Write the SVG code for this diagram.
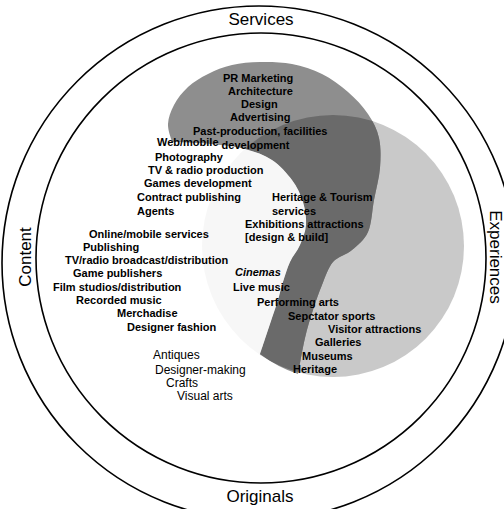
<svg xmlns="http://www.w3.org/2000/svg" width="504" height="509" viewBox="0 0 504 509">
<style>
.ring{fill:none;stroke:#000;stroke-width:1.6}
.lbl{font-family:"Liberation Sans",Arial,sans-serif;font-size:17px;fill:#000}
.it{font-family:"Liberation Sans",Arial,sans-serif;font-size:11px;font-weight:bold;fill:#000}
.og{font-family:"Liberation Sans",Arial,sans-serif;font-size:12px;fill:#000}
</style>
<defs>
<clipPath id="clipE"><circle cx="333" cy="246" r="131"/></clipPath>
<path id="sPath" d="M172,142 C171.3,139 167.7,130.2 168,124 C168.3,117.8 170.7,111.2 174,105 C177.3,98.8 182.3,92.2 188,87 C193.7,81.8 200.7,77.7 208,74 C215.3,70.3 223.3,67 232,65 C240.7,63 250,62.2 260,62 C270,61.8 281.7,62 292,64 C302.3,66 312.7,69.3 322,74 C331.3,78.7 340.3,85.3 348,92 C355.7,98.7 362.8,106.3 368,114 C373.2,121.7 377,129 379,138 C381,147 380.8,157.7 380,168 C379.2,178.3 376,189.3 374,200 C372,210.7 371.7,223.7 368,232 C364.3,240.3 357.8,245 352,250 C346.2,255 338,256.2 333,262 C328,267.8 325.3,277 322,285 C318.7,293 315.8,301.2 313,310 C310.2,318.8 307.5,327.3 305,338 C302.5,348.7 299.2,368 298,374 A131,131 0 0 1 260,354 C261,351 264,342 266,336 C268,330 270,324 272,318 C274,312 276.2,306 278,300 C279.8,294 281,288.3 283,282 C285,275.7 287.2,268.2 290,262 C292.8,255.8 297.3,251.2 300,245 C302.7,238.8 305.5,232.2 306,225 C306.5,217.8 305.3,209.5 303,202 C300.7,194.5 297.2,187 292,180 C286.8,173 279.8,165.2 272,160 C264.2,154.8 255.3,151.7 245,149 C234.7,146.3 222.2,145.2 210,144 C197.8,142.8 178.3,142.3 172,142 Z"/>
</defs>
<rect width="504" height="509" fill="#fff"/>
<g id="shading">
<circle id="experiences-area" cx="333" cy="246" r="131" fill="#c9c9c9"/>
<use href="#sPath" fill="#8e8e8e"/>
<use href="#sPath" fill="#6a6a6a" clip-path="url(#clipE)"/>
<path id="content-area" d="M172,142 C178.3,142.3 197.8,142.8 210,144 C222.2,145.2 234.7,146.3 245,149 C255.3,151.7 264.2,154.8 272,160 C279.8,165.2 286.8,173 292,180 C297.2,187 300.7,194.5 303,202 C305.3,209.5 306.5,217.8 306,225 C305.5,232.2 302.7,238.8 300,245 C297.3,251.2 292.8,255.8 290,262 C287.2,268.2 285,275.7 283,282 C281,288.3 279.8,294 278,300 C276.2,306 274,312 272,318 C270,324 268,330 266,336 C264,342 261,351 260,354 L250,400 L120,400 L120,142 Z" fill="#fff" fill-opacity="0.85"/>
</g>
<g id="rings">
<circle class="ring" cx="259" cy="263" r="257"/>
<circle class="ring" cx="261" cy="258" r="225"/>
</g>
<g id="label-services"><text class="lbl" x="261" y="25" text-anchor="middle">Services</text></g>
<g id="label-experiences"><text class="lbl" transform="translate(490,257) rotate(90)" text-anchor="middle">Experiences</text></g>
<g id="label-originals"><text class="lbl" x="260" y="502" text-anchor="middle">Originals</text></g>
<g id="label-content"><text class="lbl" transform="translate(31,257) rotate(-90)" text-anchor="middle">Content</text></g>
<g id="services-items">
<text class="it" x="223" y="82">PR Marketing</text>
<text class="it" x="228" y="95">Architecture</text>
<text class="it" x="241" y="108">Design</text>
<text class="it" x="230" y="121">Advertising</text>
<text class="it" x="193" y="135">Past-production, facilities</text>
<text class="it" x="157" y="146">Web/mobile <tspan dy="3">development</tspan></text>
<text class="it" x="155" y="161">Photography</text>
<text class="it" x="148" y="174">TV &amp; radio production</text>
<text class="it" x="144" y="187">Games development</text>
<text class="it" x="137" y="201">Contract publishing</text>
<text class="it" x="137" y="215">Agents</text>
<text class="it" x="272" y="201">Heritage &amp; Tourism</text>
<text class="it" x="272" y="215">services</text>
<text class="it" x="245" y="228">Exhibitions attractions</text>
<text class="it" x="245" y="241">[design &amp; build]</text>
</g>
<g id="content-items">
<text class="it" x="89" y="238">Online/mobile services</text>
<text class="it" x="83" y="251">Publishing</text>
<text class="it" x="65" y="264">TV/radio broadcast/distribution</text>
<text class="it" x="73" y="277">Game publishers</text>
<text class="it" x="53" y="291">Film studios/distribution</text>
<text class="it" x="76" y="304">Recorded music</text>
<text class="it" x="117" y="317">Merchadise</text>
<text class="it" x="127" y="331">Designer fashion</text>
</g>
<g id="experiences-items">
<text class="it" x="235" y="276" font-style="italic">Cinemas</text>
<text class="it" x="233" y="291">Live music</text>
<text class="it" x="257" y="306">Performing arts</text>
<text class="it" x="288" y="320">Sepctator sports</text>
<text class="it" x="328" y="333">Visitor attractions</text>
<text class="it" x="315" y="346">Galleries</text>
<text class="it" x="302" y="360">Museums</text>
<text class="it" x="293" y="373">Heritage</text>
</g>
<g id="originals-items">
<text class="og" x="153" y="359">Antiques</text>
<text class="og" x="155" y="374">Designer-making</text>
<text class="og" x="166" y="387">Crafts</text>
<text class="og" x="177" y="400">Visual arts</text>
</g>
</svg>
